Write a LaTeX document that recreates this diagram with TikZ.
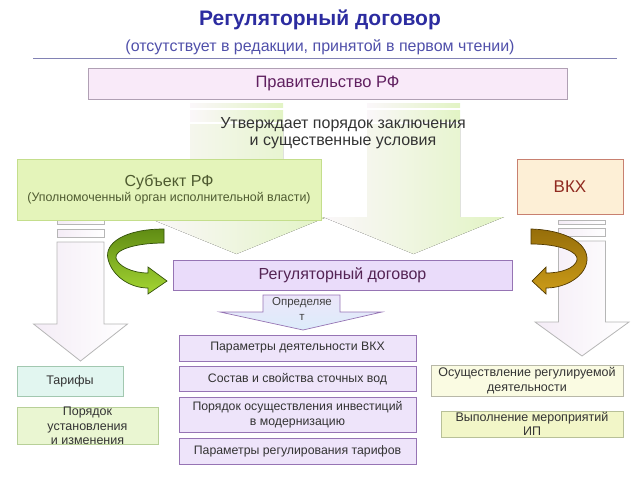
\documentclass[tikz,border=0pt]{standalone}
\usepackage{fontspec}
\setmainfont{Liberation Sans}
\usetikzlibrary{positioning}

\definecolor{titleblue}{RGB}{44,44,160}
\definecolor{subblue}{RGB}{80,80,170}
\definecolor{rulecol}{RGB}{130,130,180}
\definecolor{govfill}{RGB}{249,234,249}
\definecolor{govline}{RGB}{176,160,180}
\definecolor{govtext}{RGB}{96,32,96}
\definecolor{subjfill}{RGB}{228,244,186}
\definecolor{subjline}{RGB}{196,222,140}
\definecolor{subjtext}{RGB}{78,90,48}
\definecolor{vkhfill}{RGB}{253,239,214}
\definecolor{vkhline}{RGB}{200,128,112}
\definecolor{vkhtext}{RGB}{144,42,32}
\definecolor{regfill}{RGB}{234,220,250}
\definecolor{regline}{RGB}{150,116,180}
\definecolor{regtext}{RGB}{84,36,84}
\definecolor{parfill}{RGB}{238,228,250}
\definecolor{tarfill}{RGB}{226,246,240}
\definecolor{tarline}{RGB}{162,200,176}
\definecolor{ordfill}{RGB}{234,246,210}
\definecolor{ordline}{RGB}{184,208,152}
\definecolor{actfill}{RGB}{250,251,226}
\definecolor{actline}{RGB}{184,184,168}
\definecolor{mesfill}{RGB}{242,246,200}
\definecolor{mesline}{RGB}{184,192,152}
\definecolor{fadepink}{RGB}{251,247,250}
\definecolor{fadegreen}{RGB}{226,244,196}
\definecolor{sidegray}{RGB}{182,182,182}
\definecolor{sidepink}{RGB}{244,236,246}
\definecolor{greendark}{RGB}{96,140,20}
\definecolor{greenlight}{RGB}{164,214,50}
\definecolor{greenline}{RGB}{50,80,10}
\definecolor{browndark}{RGB}{150,110,10}
\definecolor{brownlight}{RGB}{204,156,24}
\definecolor{brownline}{RGB}{80,56,0}
\definecolor{callfill}{RGB}{236,230,250}
\definecolor{callfill2}{RGB}{220,236,250}

\tikzset{
  box/.style={draw, rectangle, inner sep=0pt, align=center, line width=0.8pt},
  parbox/.style={box, fill=parfill, draw=regline, minimum width=237pt,
    font=\fontsize{12.3}{15}\selectfont, text=black!80},
  bigarrow/.style={left color=fadepink, right color=fadegreen},
  sidearrow/.style={draw=sidegray, line width=0.8pt, left color=sidepink, right color=white},
}

\begin{document}
\begin{tikzpicture}[x=1pt, y=-1pt, node distance=5pt]
    \useasboundingbox (0,0) rectangle (640,480);

    % Draw the title and the rule under it
    \node[font=\fontsize{21}{25}\selectfont\bfseries, text=titleblue] (title) at (320,20) {Регуляторный договор};
    \node[font=\fontsize{16}{19}\selectfont, text=subblue] (subtitle) at (320,47.5) {(отсутствует в редакции, принятой в первом чтении)};
    \draw[rulecol, line width=1pt] (33,58) -- (617,58);

    % Draw the two faded arrows behind the text
    \foreach \cx in {236.5,413.5} {
        \fill[bigarrow] (\cx-46.5,103) rectangle (\cx+46.5,107);
        \fill[bigarrow] (\cx-46.5,110) rectangle (\cx+46.5,121);
        \fill[bigarrow] (\cx-46.5,124) -- (\cx+46.5,124) -- (\cx+46.5,217) -- (\cx+90.5,217)
            -- (\cx,254) -- (\cx-90.5,217) -- (\cx-46.5,217) -- cycle;
    }

    % Draw the striped arrows on both sides
    \foreach \cx/\sa/\sb/\top/\head/\tip in {80.5/220/229/242/324/361, 582/220/228/241/322/356} {
        \draw[sidearrow] (\cx-23.5,\sa) rectangle (\cx+23.5,\sa+4);
        \draw[sidearrow] (\cx-23.5,\sb) rectangle (\cx+23.5,\top-5);
        \draw[sidearrow] (\cx-23.5,\top) -- (\cx+23.5,\top) -- (\cx+23.5,\head) -- (\cx+47,\head)
            -- (\cx,\tip) -- (\cx-47,\head) -- (\cx-23.5,\head) -- cycle;
    }

    % Draw the boxes of the upper part
    \node[box, fill=govfill, draw=govline, minimum width=479pt, minimum height=31pt,
        font=\fontsize{16.5}{19}\selectfont, text=govtext] (gov) at (327.5,83.5) {Правительство РФ};
    \node[font=\fontsize{16}{17.5}\selectfont, text=black!80, align=center] (approves) at (343,133)
        {Утверждает порядок заключения\\и существенные условия};
    \node[box, fill=subjfill, draw=subjline, minimum width=304pt, minimum height=61pt,
        text=subjtext] (subject) at (169,189.5)
        {{\fontsize{16}{18}\selectfont Субъект РФ}\\[1pt]{\fontsize{12.4}{14}\selectfont (Уполномоченный орган исполнительной власти)}};
    \node[box, fill=vkhfill, draw=vkhline, minimum width=106pt, minimum height=55pt,
        font=\fontsize{17}{20}\selectfont, text=vkhtext] (vkh) at (570,186.5) {ВКХ};
    \node[box, fill=regfill, draw=regline, minimum width=339pt, minimum height=30pt,
        font=\fontsize{16}{19}\selectfont, text=regtext] (contract) at (342.5,275) {Регуляторный договор};

    % Draw the curved arrows
    \draw[greenline, line width=0.7pt, top color=greendark, bottom color=greenlight]
        (164,229) .. controls (125,229) and (104,243) .. (108,259)
        .. controls (112,276) and (130,288) .. (148,288) -- (148,294) -- (167,281)
        -- (148,267) -- (148,273) .. controls (132,273) and (118,266) .. (116,258)
        .. controls (114,250) and (135,243) .. (164,243) -- cycle;
    \draw[brownline, line width=0.7pt, top color=browndark, bottom color=brownlight]
        (531,229) .. controls (565,230) and (588,243) .. (587,260)
        .. controls (586,276) and (566,288) .. (546,288) -- (546,294) -- (532,281)
        -- (546,267) -- (546,273) .. controls (562,273) and (575,268) .. (577,260)
        .. controls (579,252) and (560,244) .. (531,244) -- cycle;

    % Draw the callout under the contract
    \draw[regline, line width=0.7pt, top color=callfill, bottom color=callfill2]
        (263,295) -- (340,295) -- (340,312) -- (382,312) -- (303,330) -- (220,312) -- (263,312) -- cycle;
    \node[font=\fontsize{11.5}{14.5}\selectfont, text=black!75, align=center] (defines) at (302,309) {Определяе\\т};

    % Draw the parameter boxes
    \node[parbox, minimum height=26pt] (par1) at (297.5,348) {Параметры деятельности ВКХ};
    \node[parbox, minimum height=25pt, below=of par1] (par2) {Состав и свойства сточных вод};
    \node[parbox, minimum height=35pt, below=of par2] (par3) {Порядок осуществления инвестиций\\в модернизацию};
    \node[parbox, minimum height=26pt, below=of par3] (par4) {Параметры регулирования тарифов};

    % Draw the boxes on the sides
    \node[box, fill=tarfill, draw=tarline, minimum width=106pt, minimum height=30pt,
        font=\fontsize{12.5}{15}\selectfont, text=black!80] (tariffs) at (70,381) {Тарифы};
    \node[box, fill=ordfill, draw=ordline, minimum width=141pt, minimum height=30pt,
        font=\fontsize{12.5}{14.5}\selectfont, text=black!80] (order) at (87.5,426)
        {Порядок\\установления\\и изменения};
    \node[box, fill=actfill, draw=actline, minimum width=192pt, minimum height=31pt,
        font=\fontsize{12.5}{14.5}\selectfont, text=black!80] (activity) at (527,380.5)
        {Осуществление регулируемой\\деятельности};
    \node[box, fill=mesfill, draw=mesline, minimum width=182pt, minimum height=26pt,
        font=\fontsize{12.5}{14.5}\selectfont, text=black!80] (measures) at (532,424)
        {Выполнение мероприятий\\ИП};
\end{tikzpicture}
\end{document}
